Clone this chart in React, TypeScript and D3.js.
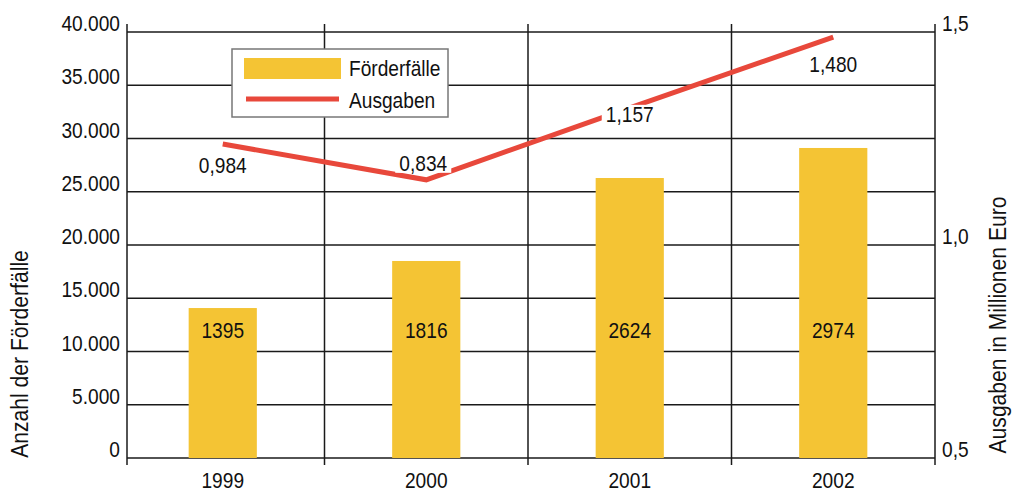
import React from 'react';
import * as d3 from 'd3';

const years = ['1999', '2000', '2001', '2002'];
const cases = [14080, 18500, 26290, 29110];
const caseLabels = ['1395', '1816', '2624', '2974'];
const spending = [1.237, 1.153, 1.322, 1.488];
const spendingLabels = ['0,984', '0,834', '1,157', '1,480'];
const leftTicks = [0, 5000, 10000, 15000, 20000, 25000, 30000, 35000, 40000];
const rightTicks = [0.5, 1.0, 1.5];

// label offsets (dx, dy to baseline) relative to line points
const labelOffsets: [number, number][] = [[0, 29], [-3, -9], [0, 14], [0, 35]];

const width = 1012, height = 492;
const left = 127, right = 935, top = 32, bottom = 458;
const font = '"Liberation Sans", Arial, sans-serif';
const yellow = '#f4c434';
const red = '#e8483b';
const ink = '#1a1a1a';

const fmtLeft = (v: number) => d3.format(',')(v).replace(/,/g, '.');
const fmtRight = (v: number) => v.toFixed(1).replace('.', ',');

// condensed text (the original uses a narrow face)
const Txt = ({ x, y, anchor = 'start', rotate = 0, size = 22, squeeze = 0.87, children }: any) => (
    <text transform={`translate(${x},${y}) rotate(${rotate}) scale(${squeeze},1)`}
        textAnchor={anchor} fontSize={size} fill="#111">{children}</text>
);

const App = () => {
    const x = d3.scaleBand<string>().domain(years).range([121, right]);
    const yL = d3.scaleLinear().domain([0, 40000]).range([bottom, top]);
    const yR = d3.scaleLinear().domain([0.5, 1.5]).range([bottom, top]);
    const bw = x.bandwidth() * 0.335;
    const cx = (y: string) => (x(y) as number) + x.bandwidth() / 2;

    const line = d3.line<number>()
        .x((d, i) => cx(years[i]))
        .y(d => yR(d));

    const boundaries = [left, ...years.slice(0, 3).map(y => (x(y) as number) + x.bandwidth()), right];

    return (
        <svg width={width} height={height} style={{ position: 'absolute', left: 0, top: 0, background: '#fff' }}
            fontFamily={font}>
            {/* horizontal grid */}
            {leftTicks.map(t => (
                <line key={t} x1={left} x2={right} y1={yL(t)} y2={yL(t)} stroke={ink} strokeWidth={1.5} />
            ))}
            {/* vertical grid / axes */}
            {boundaries.map((b, i) => (
                <line key={i} x1={b} x2={b} y1={24} y2={465} stroke={ink} strokeWidth={1.5} />
            ))}

            {/* bars */}
            {years.map((y, i) => (
                <rect key={y} x={cx(y) - bw / 2} y={yL(cases[i])} width={bw} height={yL(0) - yL(cases[i])} fill={yellow} />
            ))}
            {years.map((y, i) => (
                <Txt key={y} x={cx(y)} y={338} anchor="middle">{caseLabels[i]}</Txt>
            ))}

            {/* line */}
            <path d={line(spending) as string} fill="none" stroke={red} strokeWidth={5} />
            {years.map((y, i) => {
                const px = cx(y) + labelOffsets[i][0];
                const py = yR(spending[i]) + labelOffsets[i][1];
                return (
                    <g key={y}>
                        <rect x={px - 28} y={py - 17} width={56} height={19} fill="#fff" />
                        <Txt x={px} y={py} anchor="middle">{spendingLabels[i]}</Txt>
                    </g>
                );
            })}

            {/* left tick labels */}
            {leftTicks.map(t => (
                <Txt key={t} x={120} y={yL(t) - 1} anchor="end">{fmtLeft(t)}</Txt>
            ))}
            {/* right tick labels */}
            {rightTicks.map(t => (
                <Txt key={t} x={942} y={yR(t) - 1}>{fmtRight(t)}</Txt>
            ))}
            {/* x labels */}
            {years.map(y => (
                <Txt key={y} x={cx(y)} y={488} anchor="middle">{y}</Txt>
            ))}

            {/* axis titles */}
            <Txt x={28} y={354} rotate={-90} anchor="middle" size={24} squeeze={0.88}>Anzahl der Förderfälle</Txt>
            <Txt x={1006} y={325} rotate={-90} anchor="middle" size={24} squeeze={0.88}>Ausgaben in Millionen Euro</Txt>

            {/* legend */}
            <g>
                <rect x={232} y={49} width={216} height={68} fill="#fff" stroke="#777" strokeWidth={1.5} />
                <rect x={244} y={58} width={97} height={21} fill={yellow} />
                <line x1={246} x2={339} y1={99} y2={99} stroke={red} strokeWidth={5} />
                <Txt x={349} y={76}>Förderfälle</Txt>
                <Txt x={349} y={108}>Ausgaben</Txt>
            </g>
        </svg>
    );
};

export default App;
